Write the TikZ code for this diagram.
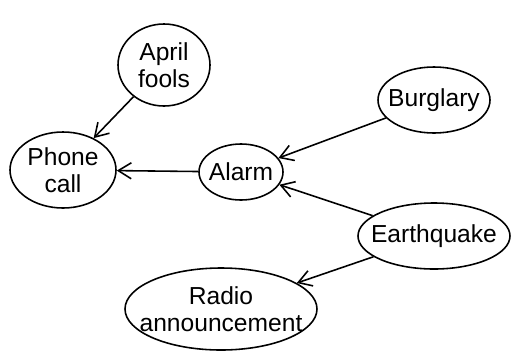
\documentclass[tikz,border=0pt]{standalone}
\usepackage{fontspec}
\setmainfont{Liberation Sans}
\usetikzlibrary{shapes.geometric, arrows.meta}

\begin{document}
\begin{tikzpicture}[
    event/.style={draw, ellipse, line width=0.9pt, inner sep=-2cm, align=center,
        font=\fontsize{14}{15.5}\selectfont},
    arr/.style={line width=0.9pt, -{Straight Barb[length=2.6mm, width=3.2mm]}}
  ]
    \useasboundingbox (0,0) rectangle (10.22,7.0);

    % Events
    \node[event, minimum width=1.84cm, minimum height=1.64cm] (april) at (3.28,5.70) {April\\fools};
    \node[event, minimum width=2.12cm, minimum height=1.52cm] (phone) at (1.26,3.60) {Phone\\call};
    \node[event, minimum width=1.68cm, minimum height=1.12cm] (alarm) at (4.82,3.56) {Alarm};
    \node[event, minimum width=2.24cm, minimum height=1.32cm] (burglary) at (8.68,5.00) {Burglary};
    \node[event, minimum width=3.04cm, minimum height=1.32cm] (quake) at (8.68,2.28) {Earthquake};
    \node[event, minimum width=3.84cm, minimum height=1.64cm] (radio) at (4.42,0.82) {Radio\\announcement};

    % Causal links
    \foreach \from/\to in {april/phone, alarm/phone, burglary/alarm, quake/alarm, quake/radio} {
        \draw[arr] (\from) -- (\to);
    }
\end{tikzpicture}
\end{document}
